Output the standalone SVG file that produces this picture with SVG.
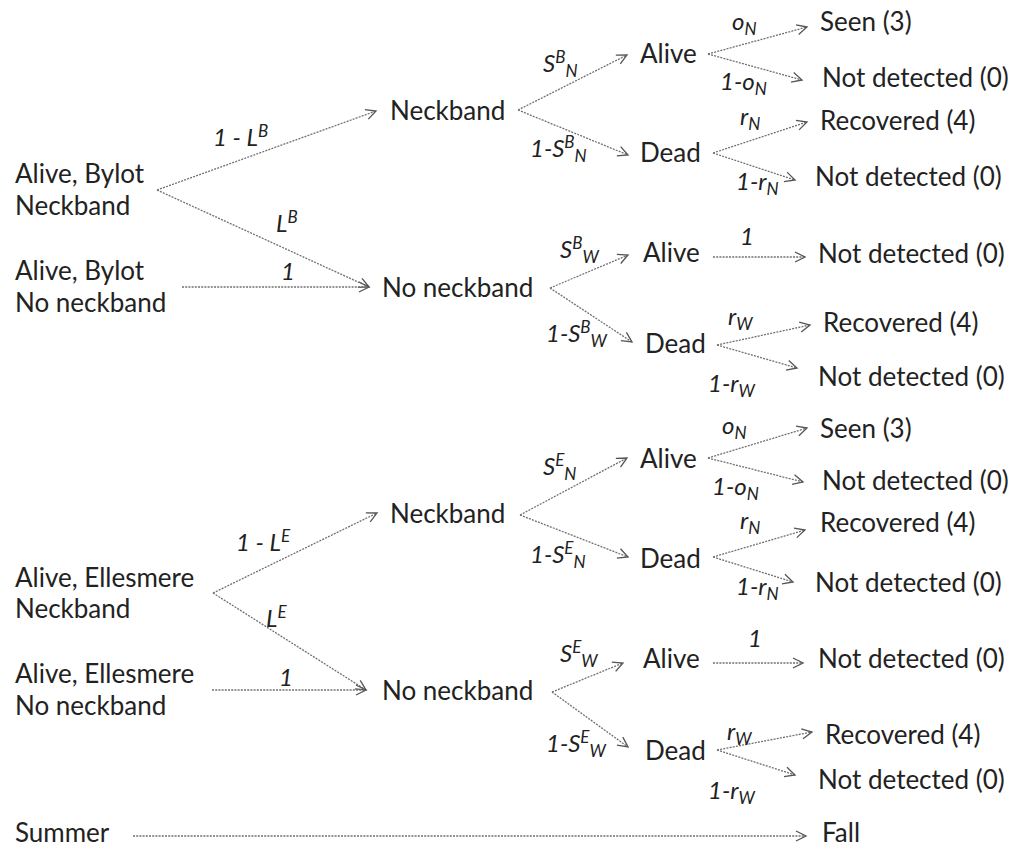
<svg xmlns="http://www.w3.org/2000/svg" width="1019" height="848" viewBox="0 0 1019 848">
<defs>
<marker id="arr" markerUnits="userSpaceOnUse" markerWidth="14" markerHeight="12" refX="10" refY="5" orient="auto" overflow="visible">
<path d="M0,0 L10,5 L0,10" fill="none" stroke="#555" stroke-width="1.3"/>
</marker>
<style>
text{font-family:Lato,"Liberation Sans",sans-serif;fill:#222}
.n{font-size:26px}
.l{font-size:24px;font-style:italic}
.s{font-size:17px;font-style:italic}
.c line{stroke:#707070;stroke-width:1.3;stroke-dasharray:2 1.2;marker-end:url(#arr);fill:none}
</style>
</defs>
<rect width="1019" height="848" fill="#fff"/>
<g id="connectors" class="c">
<line x1="157" y1="190" x2="376" y2="111"/>
<line x1="157" y1="190" x2="369" y2="287"/>
<line x1="182" y1="287" x2="369" y2="287"/>
<line x1="518" y1="110" x2="627" y2="55"/>
<line x1="518" y1="110" x2="628" y2="155"/>
<line x1="708" y1="54" x2="807" y2="27"/>
<line x1="708" y1="54" x2="802" y2="80"/>
<line x1="713" y1="153" x2="807" y2="122"/>
<line x1="713" y1="153" x2="795" y2="180"/>
<line x1="550" y1="288" x2="628" y2="255"/>
<line x1="550" y1="288" x2="632" y2="342"/>
<line x1="713" y1="257" x2="805" y2="257"/>
<line x1="717" y1="345" x2="810" y2="325"/>
<line x1="717" y1="345" x2="797" y2="368"/>
<line x1="213" y1="593" x2="377" y2="513"/>
<line x1="213" y1="593" x2="366" y2="690"/>
<line x1="212" y1="690" x2="366" y2="690"/>
<line x1="520" y1="515" x2="627" y2="458"/>
<line x1="520" y1="515" x2="628" y2="557"/>
<line x1="708" y1="458" x2="807" y2="428"/>
<line x1="708" y1="458" x2="803" y2="482"/>
<line x1="713" y1="557" x2="805" y2="530"/>
<line x1="713" y1="557" x2="793" y2="582"/>
<line x1="552" y1="692" x2="623" y2="663"/>
<line x1="552" y1="692" x2="628" y2="747"/>
<line x1="713" y1="663" x2="803" y2="663"/>
<line x1="717" y1="750" x2="812" y2="732"/>
<line x1="717" y1="750" x2="795" y2="775"/>
<line x1="133" y1="836" x2="806" y2="836"/>
</g>
<g id="labels">
<text class="l" x="213" y="146">1 - L<tspan class="s" dy="-9">B</tspan></text>
<text class="l" x="276" y="232">L<tspan class="s" dy="-9">B</tspan></text>
<text class="l" x="281" y="280">1</text>
<text class="l" x="543" y="72">S<tspan class="s" dy="-9">B</tspan><tspan class="s" dy="14">N</tspan></text>
<text class="l" x="530" y="157">1-S<tspan class="s" dy="-9">B</tspan><tspan class="s" dy="14">N</tspan></text>
<text class="l" x="732" y="30">o<tspan class="s" dy="5">N</tspan></text>
<text class="l" x="720" y="90">1-o<tspan class="s" dy="5">N</tspan></text>
<text class="l" x="740" y="125">r<tspan class="s" dy="5">N</tspan></text>
<text class="l" x="736" y="190">1-r<tspan class="s" dy="5">N</tspan></text>
<text class="l" x="560" y="258">S<tspan class="s" dy="-9">B</tspan><tspan class="s" dy="14">W</tspan></text>
<text class="l" x="740" y="245">1</text>
<text class="l" x="546" y="342">1-S<tspan class="s" dy="-9">B</tspan><tspan class="s" dy="14">W</tspan></text>
<text class="l" x="728" y="325">r<tspan class="s" dy="5">W</tspan></text>
<text class="l" x="708" y="392">1-r<tspan class="s" dy="5">W</tspan></text>
<text class="l" x="236" y="551">1 - L<tspan class="s" dy="-9">E</tspan></text>
<text class="l" x="266" y="627">L<tspan class="s" dy="-9">E</tspan></text>
<text class="l" x="279" y="686">1</text>
<text class="l" x="543" y="475">S<tspan class="s" dy="-9">E</tspan><tspan class="s" dy="14">N</tspan></text>
<text class="l" x="530" y="563">1-S<tspan class="s" dy="-9">E</tspan><tspan class="s" dy="14">N</tspan></text>
<text class="l" x="722" y="434">o<tspan class="s" dy="5">N</tspan></text>
<text class="l" x="712" y="495">1-o<tspan class="s" dy="5">N</tspan></text>
<text class="l" x="740" y="529">r<tspan class="s" dy="5">N</tspan></text>
<text class="l" x="736" y="595">1-r<tspan class="s" dy="5">N</tspan></text>
<text class="l" x="560" y="662">S<tspan class="s" dy="-9">E</tspan><tspan class="s" dy="14">W</tspan></text>
<text class="l" x="748" y="647">1</text>
<text class="l" x="546" y="752">1-S<tspan class="s" dy="-9">E</tspan><tspan class="s" dy="14">W</tspan></text>
<text class="l" x="727" y="740">r<tspan class="s" dy="5">W</tspan></text>
<text class="l" x="708" y="799">1-r<tspan class="s" dy="5">W</tspan></text>
</g>
<g id="start-bylot-neckband"><text class="n" x="15" y="183">Alive, Bylot</text><text class="n" x="15" y="215">Neckband</text></g>
<g id="start-bylot-noneckband"><text class="n" x="15" y="280">Alive, Bylot</text><text class="n" x="15" y="312">No neckband</text></g>
<g id="b-neckband"><text class="n" x="390" y="120">Neckband</text></g>
<g id="b-noneckband"><text class="n" x="382" y="297">No neckband</text></g>
<g id="bn-alive"><text class="n" x="640" y="63">Alive</text></g>
<g id="bn-dead"><text class="n" x="640" y="162">Dead</text></g>
<g id="bn-seen"><text class="n" x="820" y="31">Seen (3)</text></g>
<g id="bn-nd1"><text class="n" x="822" y="87">Not detected (0)</text></g>
<g id="bn-rec"><text class="n" x="820" y="130">Recovered (4)</text></g>
<g id="bn-nd2"><text class="n" x="815" y="186">Not detected (0)</text></g>
<g id="bw-alive"><text class="n" x="643" y="262">Alive</text></g>
<g id="bw-nd1"><text class="n" x="818" y="263">Not detected (0)</text></g>
<g id="bw-dead"><text class="n" x="645" y="353">Dead</text></g>
<g id="bw-rec"><text class="n" x="823" y="332">Recovered (4)</text></g>
<g id="bw-nd2"><text class="n" x="818" y="386">Not detected (0)</text></g>
<g id="start-elles-neckband"><text class="n" x="15" y="587">Alive, Ellesmere</text><text class="n" x="15" y="618">Neckband</text></g>
<g id="start-elles-noneckband"><text class="n" x="15" y="683">Alive, Ellesmere</text><text class="n" x="15" y="715">No neckband</text></g>
<g id="e-neckband"><text class="n" x="390" y="523">Neckband</text></g>
<g id="e-noneckband"><text class="n" x="382" y="700">No neckband</text></g>
<g id="en-alive"><text class="n" x="640" y="468">Alive</text></g>
<g id="en-dead"><text class="n" x="640" y="568">Dead</text></g>
<g id="en-seen"><text class="n" x="820" y="438">Seen (3)</text></g>
<g id="en-nd1"><text class="n" x="822" y="490">Not detected (0)</text></g>
<g id="en-rec"><text class="n" x="820" y="532">Recovered (4)</text></g>
<g id="en-nd2"><text class="n" x="815" y="592">Not detected (0)</text></g>
<g id="ew-alive"><text class="n" x="643" y="668">Alive</text></g>
<g id="ew-nd1"><text class="n" x="818" y="668">Not detected (0)</text></g>
<g id="ew-dead"><text class="n" x="645" y="760">Dead</text></g>
<g id="ew-rec"><text class="n" x="825" y="744">Recovered (4)</text></g>
<g id="ew-nd2"><text class="n" x="818" y="789">Not detected (0)</text></g>
<g id="summer"><text class="n" x="15" y="842">Summer</text></g>
<g id="fall"><text class="n" x="822" y="842">Fall</text></g>
</svg>
